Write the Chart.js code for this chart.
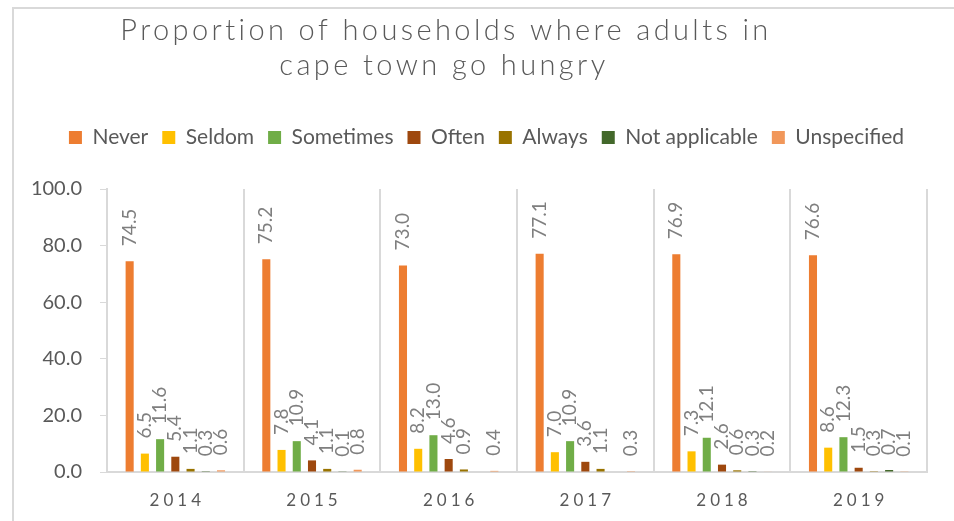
<!DOCTYPE html>
<html>
<head>
<meta charset="utf-8">
<script src="https://cdn.jsdelivr.net/npm/chart.js@4/dist/chart.umd.min.js"></script>
<style>
  html, body { margin: 0; padding: 0; background: #fff; }
  canvas { display: block; }
</style>
</head>
<body>
<canvas id="hunger" width="954" height="521"></canvas>
<script>
  const years = ['2014', '2015', '2016', '2017', '2018', '2019']
  const titleLines = ['Proportion of households where adults in', 'cape town go hungry']

  const never = [74.5, 75.2, 73.0, 77.1, 76.9, 76.6]
  const seldom = [6.5, 7.8, 8.2, 7.0, 7.3, 8.6]
  const sometimes = [11.6, 10.9, 13.0, 10.9, 12.1, 12.3]
  const often = [5.4, 4.1, 4.6, 3.6, 2.6, 1.5]
  const always = [1.1, 1.1, 0.9, 1.1, 0.6, 0.3]
  const notApplicable = [0.3, 0.1, null, null, 0.3, 0.7]
  const unspecified = [0.6, 0.8, 0.4, 0.3, 0.2, 0.1]

  const yTicks = [0, 20, 40, 60, 80, 100]

  const grey = '#595959'
  const lineGrey = '#d9d9d9'

  const series = [
    ['Never', never, '#ED7D31'],
    ['Seldom', seldom, '#FFC000'],
    ['Sometimes', sometimes, '#70AD47'],
    ['Often', often, '#9E480E'],
    ['Always', always, '#997300'],
    ['Not applicable', notApplicable, '#43682B'],
    ['Unspecified', unspecified, '#F1975A']
  ]

  // frame, title, year labels and value labels
  const decor = {
    id: 'decor',
    afterInit(chart) {
      // leave some room between the legend and the plot
      const fit = chart.legend.fit
      chart.legend.fit = function () {
        fit.call(this)
        this.height += 31
      }
    },
    afterLayout(chart) {
      // legend sits a little right of centre
      chart.legend.left += 46
    },
    beforeDraw(chart) {
      const ctx = chart.ctx
      ctx.save()
      ctx.strokeStyle = lineGrey
      ctx.lineWidth = 2
      ctx.strokeRect(13, 8, 1000, 600)
      ctx.restore()
    },
    afterDatasetsDraw(chart) {
      const ctx = chart.ctx
      ctx.save()
      ctx.fillStyle = '#7f7f7f'
      ctx.font = '19px Lato'
      ctx.textAlign = 'left'
      ctx.textBaseline = 'middle'
      chart.data.datasets.forEach((ds, i) => {
        const meta = chart.getDatasetMeta(i)
        meta.data.forEach((bar, j) => {
          const v = ds.data[j]
          if (v === null) return
          ctx.save()
          ctx.translate(bar.x, bar.y - 15)
          ctx.rotate(-Math.PI / 2)
          ctx.fillText(v.toFixed(1), 0, 0)
          ctx.restore()
        })
      })
      ctx.restore()
    },
    afterDraw(chart) {
      const ctx = chart.ctx
      ctx.save()
      ctx.fillStyle = grey
      ctx.textAlign = 'center'
      ctx.textBaseline = 'alphabetic'
      ctx.font = '300 29px Lato'
      ctx.letterSpacing = '3.4px'
      ctx.fillText(titleLines[0], 446, 40)
      ctx.fillText(titleLines[1], 444, 75)

      const x = chart.scales.x
      ctx.font = '17px Lato'
      ctx.letterSpacing = '4px'
      ctx.textBaseline = 'middle'
      years.forEach((y, i) => {
        ctx.fillText(y, x.getPixelForTick(i) + 2, 501)
      })
      ctx.restore()
    }
  }

  new Chart(document.getElementById('hunger'), {
    type: 'bar',
    data: {
      labels: years,
      datasets: series.map(([label, data, color]) => ({
        label,
        data,
        backgroundColor: color,
        categoryPercentage: 0.78,
        barPercentage: 0.53
      }))
    },
    options: {
      responsive: false,
      animation: false,
      layout: { padding: { top: 113, right: 27, left: 0, bottom: 0 } },
      plugins: {
        legend: {
          position: 'top',
          labels: {
            color: grey,
            font: { family: 'Lato', size: 21 },
            boxWidth: 13,
            boxHeight: 13,
            padding: 14
          }
        },
        tooltip: { enabled: false }
      },
      scales: {
        x: {
          grid: { color: lineGrey, lineWidth: 2, tickLength: 0, offset: true },
          border: { color: lineGrey, width: 2 },
          ticks: { display: false },
          afterFit(scale) { scale.height = 49 }
        },
        y: {
          min: 0,
          max: 100,
          afterBuildTicks(scale) { scale.ticks = yTicks.map(v => ({ value: v })) },
          grid: { color: lineGrey, drawOnChartArea: false, tickLength: 7 },
          border: { color: lineGrey, width: 2 },
          ticks: {
            color: grey,
            font: { family: 'Lato', size: 20 },
            padding: 18,
            callback: v => v.toFixed(1)
          },
          afterFit(scale) { scale.width = 107 }
        }
      }
    },
    plugins: [decor]
  })
</script>
</body>
</html>
